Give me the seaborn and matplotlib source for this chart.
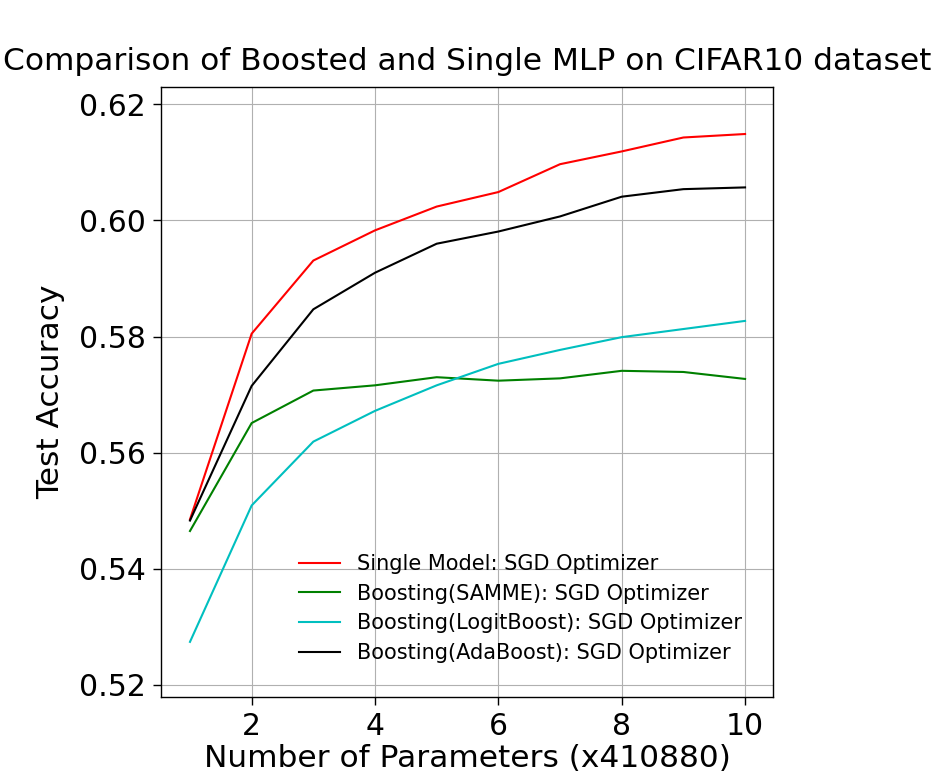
import matplotlib
matplotlib.use("Agg")
import matplotlib.pyplot as plt
import seaborn as sns
import pandas as pd

params = [1, 2, 3, 4, 5, 6, 7, 8, 9, 10]
single_sgd = [0.5485, 0.5805, 0.5931, 0.5983, 0.6024, 0.6049, 0.6097, 0.6119, 0.6143, 0.6149]
samme_sgd = [0.5465, 0.5651, 0.5707, 0.5716, 0.5730, 0.5724, 0.5728, 0.5741, 0.5739, 0.5727]
logit_sgd = [0.5274, 0.5509, 0.5619, 0.5672, 0.5716, 0.5753, 0.5777, 0.5799, 0.5813, 0.5827]
ada_sgd = [0.5483, 0.5715, 0.5847, 0.5910, 0.5960, 0.5981, 0.6007, 0.6041, 0.6054, 0.6057]

labels = ["Single Model: SGD Optimizer",
          "Boosting(SAMME): SGD Optimizer",
          "Boosting(LogitBoost): SGD Optimizer",
          "Boosting(AdaBoost): SGD Optimizer"]
colors = ["#ff0000", "#008000", "#00bfbf", "#000000"]
yticks = [0.52, 0.54, 0.56, 0.58, 0.60, 0.62]
ytick_labels = ["0.52", "0.54", "0.56", "0.58", "0.60", "0.62"]
xticks = [2, 4, 6, 8, 10]

rows = []
for lab, vals in zip(labels, [single_sgd, samme_sgd, logit_sgd, ada_sgd]):
    for p, v in zip(params, vals):
        rows.append({"params": p, "acc": v, "series": lab})
df = pd.DataFrame(rows)

plt.rcParams["font.family"] = ["DejaVu Sans"]
fig = plt.figure(figsize=(9.36, 7.8), dpi=100)
ax = fig.add_axes([161/936, 1 - 697/780, (773-161)/936, (697-87)/780])

sns.lineplot(data=df, x="params", y="acc", hue="series", hue_order=labels,
             palette=dict(zip(labels, colors)), linewidth=1.5, ax=ax)

ax.set_ylim(0.5179, 0.6230)
ax.set_xlim(0.53, 10.453)
ax.set_xticks(xticks)
ax.set_yticks(yticks)
ax.set_yticklabels(ytick_labels)
ax.tick_params(labelsize=21.5, length=6, width=1, direction="out", pad=5)
ax.grid(True, color="#b0b0b0", linewidth=0.8)
for s in ax.spines.values():
    s.set_color("black")
    s.set_linewidth(1.0)
ax.set_xlabel("Number of Parameters (x410880)", fontsize=22.5, labelpad=2)
ax.set_ylabel("Test Accuracy", fontsize=22.5, labelpad=10)
ax.set_title("Comparison of Boosted and Single MLP on CIFAR10 dataset",
             fontsize=22.5, pad=12)
leg = ax.legend(loc="center", bbox_to_anchor=(0.587, 0.145), frameon=False,
                fontsize=15, labelspacing=0.46, handletextpad=0.8)
fig.savefig("out.png", dpi=100)
